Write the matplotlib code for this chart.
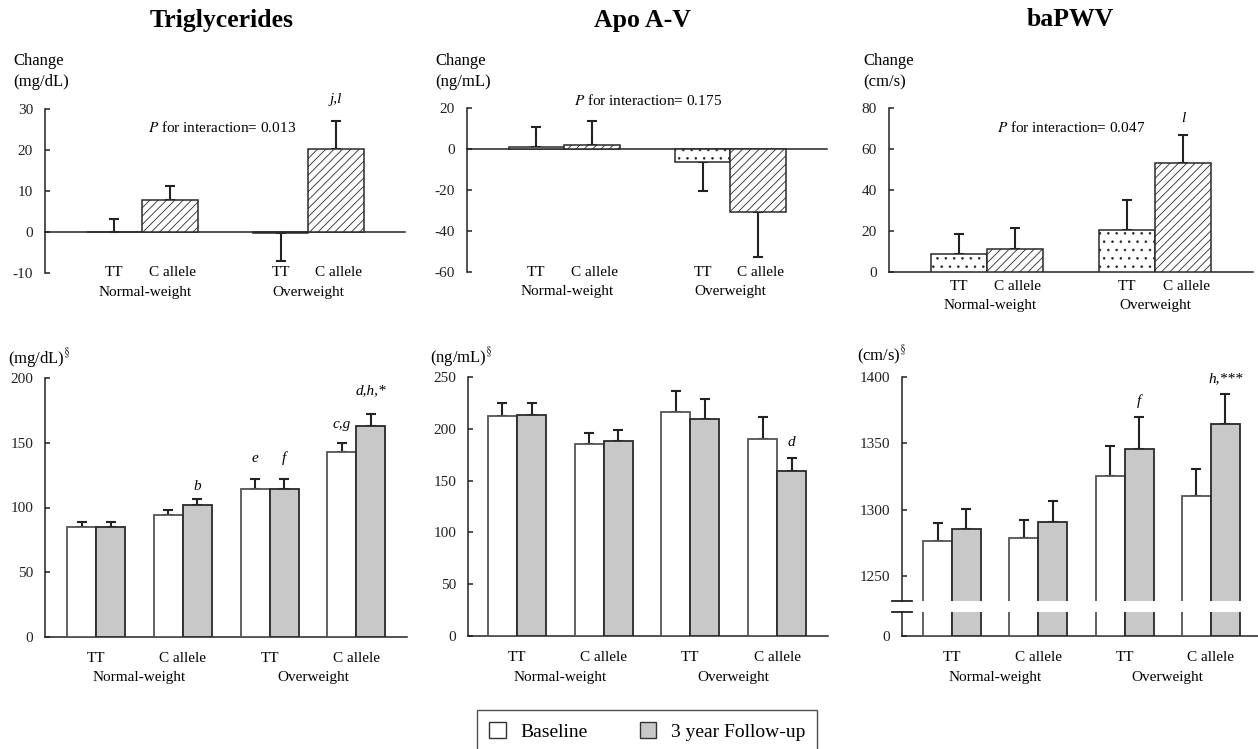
import matplotlib
matplotlib.use("Agg")
import matplotlib.pyplot as plt
import numpy as np
from matplotlib.patches import Patch

plt.rcParams["font.family"] = ["Liberation Serif", "DejaVu Serif"]
plt.rcParams["mathtext.fontset"] = "stix"
plt.rcParams["hatch.linewidth"] = 0.6
plt.rcParams["axes.unicode_minus"] = False

W, H = 1258, 749

# ---- data -------------------------------------------------------------
genotypes = ["TT", "C allele", "TT", "C allele"]
groups = ["Normal-weight", "Overweight"]

# change over 3 years (top row)
tg_change = [0.1, 7.7, -0.3, 20.3]
tg_change_se = [3.0, 3.6, 6.7, 6.7]
apo_change = [0.8, 2.0, -6.3, -30.5]
apo_change_se = [9.7, 11.5, 14.2, 22.0]
pwv_change = [9.0, 11.3, 20.5, 53.3]
pwv_change_se = [9.5, 10.0, 14.5, 13.7]
p_interaction = ["0.013", "0.175", "0.047"]

# baseline / follow-up (bottom row)
tg_base = [85.2, 94.2, 114.0, 142.6]
tg_base_se = [3.4, 3.6, 7.8, 7.4]
tg_follow = [85.3, 102.2, 114.0, 163.0]
tg_follow_se = [3.3, 4.6, 7.8, 9.4]

apo_base = [212.4, 185.7, 216.2, 189.9]
apo_base_se = [12.5, 10.3, 20.0, 21.5]
apo_follow = [213.7, 188.2, 209.8, 159.3]
apo_follow_se = [11.2, 10.7, 19.0, 12.5]

pwv_base = [1276.9, 1279.2, 1325.4, 1310.8]
pwv_base_se = [13.6, 13.1, 22.6, 20.0]
pwv_follow = [1285.9, 1290.8, 1345.9, 1364.4]
pwv_follow_se = [14.9, 15.6, 23.9, 22.8]

EDGE = "#2a2a2a"
GREY = "#c8c8c8"

fig = plt.figure(figsize=(W / 100, H / 100), dpi=100)


def px_axes(left, top, right, bottom):
    return fig.add_axes([left / W, 1 - bottom / H, (right - left) / W, (bottom - top) / H])


def style(ax, ticks, lim):
    for s in ["top", "right"]:
        ax.spines[s].set_visible(False)
    for s in ["left", "bottom"]:
        ax.spines[s].set_linewidth(1.1)
        ax.spines[s].set_color("#222")
    ax.set_ylim(*lim)
    ax.set_yticks(ticks)
    ax.set_xticks([])
    ax.tick_params(axis="y", direction="in", length=3.6, width=1.1, pad=8.6,
                   labelsize=11, colors="#222")


def one_sided(ax, x, vals, se, **kw):
    vals = np.asarray(vals); se = np.asarray(se)
    lo = np.where(vals < 0, se, 0)
    hi = np.where(vals >= 0, se, 0)
    ax.errorbar(x, vals, yerr=[lo, hi], fmt="none", ecolor="#222", elinewidth=1.5,
                capsize=3.3, capthick=1.5, zorder=2, **kw)


def xlabels(ax, pos, gpos, off):
    for p, g in zip(pos, genotypes):
        ax.annotate(g, (p, 0), xycoords=("data", "axes fraction"),
                    xytext=(0, -off * 0.72), textcoords="offset points",
                    ha="center", va="center", fontsize=11, annotation_clip=False)
    for p, g in zip(gpos, groups):
        ax.annotate(g, (p, 0), xycoords=("data", "axes fraction"),
                    xytext=(0, -(off + 20) * 0.72), textcoords="offset points",
                    ha="center", va="center", fontsize=11, annotation_clip=False)


def change_panel(ax, vals, se, ticks, lim, p, lab_off, p_xy, note=None):
    x = np.array([0, 1, 3, 4])
    hatches = ["..", "////", "..", "////"]
    for xi, v, h in zip(x, vals, hatches):
        ax.bar(xi, v, width=1.0, color="white", edgecolor=EDGE, hatch=h,
               linewidth=1.1, zorder=3)
    one_sided(ax, x, vals, se)
    style(ax, ticks, lim)
    ax.set_xlim(-1.25, 5.24)
    ax.spines["bottom"].set_position(("data", 0))
    ax.text(*p_xy, f"$P$ for interaction= {p}", ha="center", va="center",
            fontsize=11, clip_on=False)
    if note:
        ax.text(note[0], note[1], note[2], ha="center", va="center", fontsize=11,
                fontstyle="italic", clip_on=False)
    xlabels(ax, [0, 1.05, 3, 4.05], [0.55, 3.5], lab_off)
    return ax


def level_panel(ax, base, base_se, follow, follow_se, ticks, lim, xlim, err=True):
    x = np.arange(4)
    w = 0.335
    ax.bar(x - w / 2, base, width=w, color="white", edgecolor="#555",
           linewidth=1.3, zorder=3)
    ax.bar(x + w / 2, follow, width=w, color=GREY, edgecolor=EDGE,
           linewidth=1.3, zorder=3)
    if err:
        one_sided(ax, x - w / 2, base, base_se)
        one_sided(ax, x + w / 2, follow, follow_se)
    style(ax, ticks, lim)
    ax.set_xlim(*xlim)
    return ax


# ---- top row ----------------------------------------------------------
ax1 = px_axes(45, 109, 405, 273)
change_panel(ax1, tg_change, tg_change_se, [-10, 0, 10, 20, 30], (-10, 30),
             p_interaction[0], 0, (1.95, 25.6), (4, 32.2, "j,l"))
ax2 = px_axes(467, 108, 827, 272)
change_panel(ax2, apo_change, apo_change_se, [-60, -40, -20, 0, 20], (-60, 20),
             p_interaction[1], 0, (2.02, 23.9))
ax3 = px_axes(889, 108, 1253, 272)
change_panel(ax3, pwv_change, pwv_change_se, [0, 20, 40, 60, 80], (0, 80),
             p_interaction[2], 14, (1.99, 70.7), (4, 75.1, "l"))

for cx, title in [(222, "Triglycerides"), (642, "Apo A-V"), (1070, "baPWV")]:
    fig.text(cx / W, 1 - 20 / H, title, ha="center", va="center",
             fontsize=18.5, fontweight="bold")
for lx, unit in [(13, "(mg/dL)"), (435, "(ng/mL)"), (863, "(cm/s)")]:
    fig.text(lx / W, 1 - 61 / H, "Change", ha="left", va="center", fontsize=12)
    fig.text(lx / W, 1 - 82 / H, unit, ha="left", va="center", fontsize=12)

# ---- bottom row -------------------------------------------------------
b1 = px_axes(45, 378, 407, 637)
level_panel(b1, tg_base, tg_base_se, tg_follow, tg_follow_se,
            [0, 50, 100, 150, 200], (0, 200), (-0.59, 3.585))
xlabels(b1, range(4), [0.5, 2.5], 21)
w = 0.335
for xi, y, s in [(1 + w / 2, 116, "b"), (2 - w / 2, 138, "e"), (2 + w / 2, 138, "f"),
                 (3 - w / 2, 164, "c,g"), (3 + w / 2, 190, "d,h,*")]:
    b1.text(xi, y, s, ha="center", va="center", fontsize=11, fontstyle="italic")

b2 = px_axes(468, 377, 828, 636)
level_panel(b2, apo_base, apo_base_se, apo_follow, apo_follow_se,
            [0, 50, 100, 150, 200, 250], (0, 250), (-0.565, 3.587))
xlabels(b2, range(4), [0.5, 2.5], 21.5)
b2.text(3 + w / 2, 187, "d", ha="center", va="center", fontsize=11, fontstyle="italic")

# baPWV: broken y axis (upper part 1231-1400, stub at 0)
b3 = px_axes(902, 377, 1258, 601)
level_panel(b3, pwv_base, pwv_base_se, pwv_follow, pwv_follow_se,
            [1250, 1300, 1350, 1400], (1231.5, 1400), (-0.58, 3.546))
b3.spines["bottom"].set_visible(False)
b3.plot([-0.028, 0.028], [0, 0], transform=b3.transAxes, color="#222", lw=1.3,
        clip_on=False)
b3.text(2 + w / 2, 1382, "f", ha="center", va="center", fontsize=11, fontstyle="italic")
b3.text(3 + w / 2, 1398.8, "h,***", ha="center", va="center", fontsize=11,
        fontstyle="italic")

b3l = px_axes(902, 612, 1258, 636)
level_panel(b3l, pwv_base, pwv_base_se, pwv_follow, pwv_follow_se,
            [0], (0, 100), (-0.58, 3.546), err=False)
b3l.plot([-0.028, 0.028], [1, 1], transform=b3l.transAxes, color="#222", lw=1.3,
         clip_on=False)
xlabels(b3l, range(4), [0.5, 2.5], 21.5)

for lx, ly, unit in [(8, 358, "(mg/dL)"), (430, 357, "(ng/mL)"), (857, 355, "(cm/s)")]:
    fig.text(lx / W, 1 - ly / H, unit + r"$^{\mathit{§}}$", ha="left", va="center",
             fontsize=12)

# ---- legend -----------------------------------------------------------
handles = [Patch(facecolor="white", edgecolor="#333", label="Baseline"),
           Patch(facecolor=GREY, edgecolor="#333", label="3 year Follow-up")]
fig.legend(handles=handles, loc="upper left", bbox_to_anchor=(477 / W, 1 - 710 / H),
           ncol=2, frameon=True, fancybox=False, edgecolor="#222", fontsize=14,
           handlelength=0.85, handleheight=0.85, handletextpad=0.75,
           columnspacing=2.7, borderpad=0.62, borderaxespad=0)

fig.savefig("out.png", dpi=100, facecolor="white")
